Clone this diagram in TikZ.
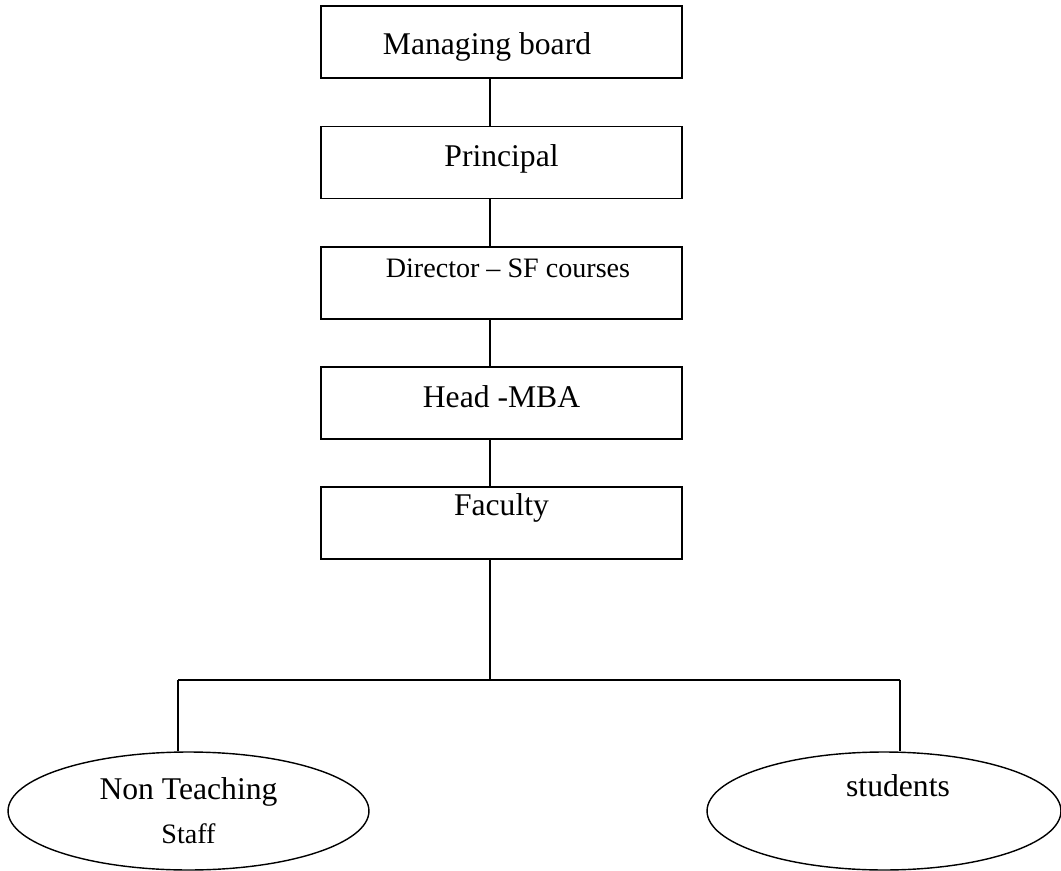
\documentclass[tikz,border=0pt]{standalone}
\usepackage{fontspec}
\setmainfont{Liberation Serif}
\usetikzlibrary{shapes.geometric, positioning}

\begin{document}
\begin{tikzpicture}[x=0.02cm, y=-0.02cm,
            box/.style={rectangle, draw, line width=1pt, minimum width=7.22cm, minimum height=1.44cm,
                        inner sep=0pt, text depth=0.4cm, font=\fontsize{18}{22}\selectfont},
            oval/.style={ellipse, draw, line width=0.8pt, minimum height=2.36cm, inner sep=0pt,
                         align=center, font=\fontsize{18}{22}\selectfont},
            link/.style={line width=1pt}
        ]
        \useasboundingbox (0,0) rectangle (1061,871);

        % Boxes (manual layout to match figure)
        \node[box, text height=0.92cm] (board) at (501.5,42) {Managing board\hspace*{0.58cm}};
        \node[box, text height=0.58cm] (principal) at (501.5,162.5) {Principal};
        \node[box, text height=0.2cm, font=\fontsize{16}{20}\selectfont] (director) at (501.5,283) {\hspace*{0.26cm}Director – SF courses};
        \node[box, text height=0.56cm] (head) at (501.5,403) {Head -MBA};
        \node[box, text height=0.08cm] (faculty) at (501.5,523) {Faculty};

        \node[oval, minimum width=7.22cm] (staff) at (188.5,811) {Non Teaching\\[3pt]{\fontsize{16}{20}\selectfont Staff}};
        \node[oval, minimum width=7.08cm, text height=0.44cm, text depth=1.04cm] (students) at (884,811) {\hspace*{0.56cm}students};

        % Edges
        \coordinate (split) at (490,680);
        \coordinate (left) at (178,680);
        \coordinate (right) at (900,680);

        \draw[link] (board.south -| split) -- (principal.north -| split);
        \draw[link] (principal.south -| split) -- (director.north -| split);
        \draw[link] (director.south -| split) -- (head.north -| split);
        \draw[link] (head.south -| split) -- (faculty.north -| split);
        \draw[link] (faculty.south -| split) -- (split);

        \draw[link] (left) -- (right);
        \draw[link] (left) -- (staff.north -| left);
        \draw[link] (right) -- (students.north -| right);

\end{tikzpicture}
\end{document}
